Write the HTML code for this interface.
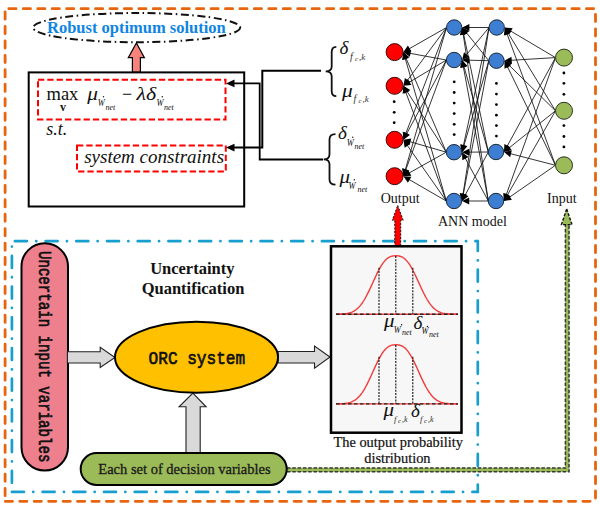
<!DOCTYPE html>
<html><head><meta charset="utf-8"><style>
html,body{margin:0;padding:0;background:#fff;}
svg{display:block;}
text{font-family:"Liberation Serif",serif;}
.mono{font-family:"Liberation Mono",monospace;}
</style></head><body>
<svg width="600" height="508" viewBox="0 0 600 508">
<g stroke="#E8650F" stroke-width="2.8" stroke-linecap="round" fill="none" stroke-dasharray="7.2 7.24">
<line x1="5" y1="8.7" x2="595.5" y2="8.7" stroke-dashoffset="10.6"/>
<line x1="595.5" y1="8.7" x2="595.5" y2="501.3" stroke-dashoffset="8.74"/>
<line x1="5" y1="501.3" x2="595.5" y2="501.3" stroke-dashoffset="14.14"/>
<line x1="5.1" y1="8.7" x2="5.1" y2="501.3" stroke-dashoffset="11.14"/>
</g>
<g stroke="#17A0CF" stroke-width="2.7" stroke-linecap="round" fill="none" stroke-dasharray="12 9.3 0.1 9.3">
<line x1="11.9" y1="241.2" x2="477.8" y2="241.2" stroke-dashoffset="27.7"/>
<line x1="477.8" y1="241.2" x2="477.8" y2="491.9" stroke-dashoffset="2.2"/>
<line x1="11.9" y1="491.9" x2="477.8" y2="491.9" stroke-dashoffset="30.7"/>
<line x1="11.9" y1="241.2" x2="11.9" y2="491.9" stroke-dashoffset="16"/>
</g>

<!-- Robust ellipse -->
<ellipse cx="136.7" cy="27.6" rx="103.5" ry="14.6" fill="none" stroke="#111" stroke-width="2" stroke-dasharray="8 3.5 1.5 3.5"/>
<text x="47" y="33" font-size="16.5" font-weight="bold" fill="#0F85E3">Robust optimum solution</text>
<polygon points="136.4,43 144.4,57.7 140.4,57.7 140.4,72.4 132.4,72.4 132.4,57.7 128.3,57.7" fill="#F8837A" stroke="#000" stroke-width="1.2" stroke-linejoin="miter"/>

<!-- optimisation box -->
<rect x="28.7" y="72.4" width="215.5" height="134.1" fill="none" stroke="#000" stroke-width="2"/>
<rect x="38" y="79.8" width="187.5" height="39.6" fill="none" stroke="#FF0000" stroke-width="2" stroke-dasharray="6.3 3"/>
<rect x="77" y="145.5" width="148.8" height="26" fill="none" stroke="#FF0000" stroke-width="2" stroke-dasharray="6.3 3"/>

<text x="46.5" y="100.1" font-size="18.5" fill="#111">max</text>
<text x="60" y="111.1" font-size="12" font-weight="bold" fill="#111">v</text>
<text transform="translate(87.3,99.7) scale(1.12,1)" font-size="19" font-style="italic" fill="#111">μ</text>
<text transform="translate(97.7,105.7) scale(0.8,1)" font-size="10.5" font-style="italic" fill="#111">W</text>
<circle cx="103.5" cy="96.8" r="0.7" fill="#111"/>
<text x="105.5" y="109.7" font-size="8" font-style="italic" fill="#111">net</text>
<text x="122" y="100" font-size="18" fill="#111">−</text>
<text transform="translate(136.5,100) scale(1.15,1)" font-size="19" font-style="italic" fill="#111">λδ</text>
<text transform="translate(156.5,105.7) scale(0.8,1)" font-size="10.5" font-style="italic" fill="#111">W</text>
<circle cx="162.3" cy="96.8" r="0.7" fill="#111"/>
<text x="164" y="109.7" font-size="8" font-style="italic" fill="#111">net</text>
<text x="46.3" y="135.4" font-size="18" font-style="italic" fill="#111">s.t.</text>
<text x="84.2" y="163.3" font-size="19" font-style="italic" fill="#111">system constraints</text>

<!-- connectors -->
<polyline points="321,70.7 262.3,70.7 262.3,147.6 233,147.6" fill="none" stroke="#000" stroke-width="2"/>
<polygon points="226,147.6 234.5,143.8 234.5,151.4" fill="#000"/>
<polyline points="323,159.5 259.7,159.5 259.7,83.4 233,83.4" fill="none" stroke="#000" stroke-width="1.8"/>
<polygon points="226,83.4 234.5,79.6 234.5,87.2" fill="#000"/>

<!-- braces -->
<path d="M336.3,46.8 Q331.7,46.8 331.7,52 L331.7,66.5 Q331.7,71.3 325.7,71.3 Q331.7,71.3 331.7,76.5 L331.7,91 Q331.7,96.2 336.3,96.2" fill="none" stroke="#111" stroke-width="1.8"/>
<path d="M335.5,134.2 Q329.5,134.2 329.5,139.5 L329.5,154.3 Q329.5,159.4 323.7,159.4 Q329.5,159.4 329.5,164.5 L329.5,179.5 Q329.5,184.6 335.5,184.6" fill="none" stroke="#111" stroke-width="1.8"/>

<text x="339.5" y="53.6" font-size="19" font-style="italic" fill="#111">δ</text>
<text x="350" y="60.00" font-size="10" font-style="italic" fill="#333">f</text>
<text x="355" y="61.00" font-size="7" font-style="italic" fill="#333">c</text>
<text x="359" y="60.00" font-size="9" font-style="italic" fill="#333">,k</text>
<text transform="translate(342,96.5) scale(1.12,1)" font-size="19" font-style="italic" fill="#111">μ</text>
<text x="353.5" y="102.00" font-size="10" font-style="italic" fill="#333">f</text>
<text x="358.5" y="103.00" font-size="7" font-style="italic" fill="#333">c</text>
<text x="362.5" y="102.00" font-size="9" font-style="italic" fill="#333">,k</text>

<text x="337.9" y="139" font-size="19" font-style="italic" fill="#111">δ</text>
<text transform="translate(346.7,145.7) scale(0.8,1)" font-size="10.5" font-style="italic" fill="#111">W</text>
<circle cx="352.8" cy="137.3" r="0.7" fill="#111"/>
<text x="354.5" y="148.5" font-size="8" font-style="italic" fill="#111">net</text>
<text transform="translate(339.4,183) scale(1.1,1)" font-size="19" font-style="italic" fill="#111">μ</text>
<text transform="translate(348.5,188.5) scale(0.8,1)" font-size="10.5" font-style="italic" fill="#111">W</text>
<circle cx="354.3" cy="179.8" r="0.7" fill="#111"/>
<text x="357.5" y="191.5" font-size="8" font-style="italic" fill="#111">net</text>

<!-- network -->
<line x1="555.50" y1="57.60" x2="510.03" y2="30.66" stroke="#111" stroke-width="0.85"/><polygon points="504.70,27.50 512.68,28.16 509.11,34.18" fill="#000"/><line x1="555.50" y1="57.60" x2="510.69" y2="60.32" stroke="#111" stroke-width="0.85"/><polygon points="504.50,60.70 511.47,56.77 511.90,63.76" fill="#000"/><line x1="555.50" y1="57.60" x2="506.97" y2="146.56" stroke="#111" stroke-width="0.85"/><polygon points="504.00,152.00 504.38,144.00 510.52,147.36" fill="#000"/><line x1="555.50" y1="57.60" x2="506.10" y2="195.16" stroke="#111" stroke-width="0.85"/><polygon points="504.00,201.00 503.14,193.04 509.73,195.41" fill="#000"/><line x1="555.50" y1="110.80" x2="507.93" y2="32.79" stroke="#111" stroke-width="0.85"/><polygon points="504.70,27.50 511.44,31.82 505.46,35.47" fill="#000"/><line x1="555.50" y1="110.80" x2="508.92" y2="65.04" stroke="#111" stroke-width="0.85"/><polygon points="504.50,60.70 512.09,63.25 507.18,68.24" fill="#000"/><line x1="555.50" y1="110.80" x2="508.84" y2="148.13" stroke="#111" stroke-width="0.85"/><polygon points="504.00,152.00 507.44,144.77 511.81,150.24" fill="#000"/><line x1="555.50" y1="110.80" x2="507.07" y2="195.62" stroke="#111" stroke-width="0.85"/><polygon points="504.00,201.00 504.53,193.01 510.61,196.48" fill="#000"/><line x1="555.50" y1="165.30" x2="506.84" y2="33.32" stroke="#111" stroke-width="0.85"/><polygon points="504.70,27.50 510.47,33.04 503.91,35.47" fill="#000"/><line x1="555.50" y1="165.30" x2="507.22" y2="66.27" stroke="#111" stroke-width="0.85"/><polygon points="504.50,60.70 510.80,65.64 504.51,68.71" fill="#000"/><line x1="555.50" y1="165.30" x2="510.00" y2="153.55" stroke="#111" stroke-width="0.85"/><polygon points="504.00,152.00 511.85,150.41 510.10,157.19" fill="#000"/><line x1="555.50" y1="165.30" x2="509.10" y2="197.47" stroke="#111" stroke-width="0.85"/><polygon points="504.00,201.00 507.92,194.02 511.91,199.77" fill="#000"/><line x1="489.00" y1="27.50" x2="468.40" y2="27.50" stroke="#111" stroke-width="0.85"/><polygon points="462.20,27.50 469.40,24.00 469.40,31.00" fill="#000"/><line x1="489.00" y1="27.50" x2="466.05" y2="55.22" stroke="#111" stroke-width="0.85"/><polygon points="462.10,60.00 463.99,52.22 469.39,56.69" fill="#000"/><line x1="489.00" y1="27.50" x2="463.31" y2="146.14" stroke="#111" stroke-width="0.85"/><polygon points="462.00,152.20 460.10,144.42 466.94,145.90" fill="#000"/><line x1="489.00" y1="27.50" x2="462.95" y2="194.87" stroke="#111" stroke-width="0.85"/><polygon points="462.00,201.00 459.65,193.35 466.57,194.42" fill="#000"/><line x1="488.80" y1="60.70" x2="466.08" y2="32.34" stroke="#111" stroke-width="0.85"/><polygon points="462.20,27.50 469.43,30.93 463.97,35.31" fill="#000"/><line x1="488.80" y1="60.70" x2="468.30" y2="60.16" stroke="#111" stroke-width="0.85"/><polygon points="462.10,60.00 469.39,56.69 469.21,63.69" fill="#000"/><line x1="488.80" y1="60.70" x2="463.74" y2="146.25" stroke="#111" stroke-width="0.85"/><polygon points="462.00,152.20 460.66,144.31 467.38,146.27" fill="#000"/><line x1="488.80" y1="60.70" x2="463.16" y2="194.91" stroke="#111" stroke-width="0.85"/><polygon points="462.00,201.00 459.91,193.27 466.79,194.58" fill="#000"/><line x1="488.30" y1="152.00" x2="463.47" y2="33.57" stroke="#111" stroke-width="0.85"/><polygon points="462.20,27.50 467.10,33.83 460.25,35.26" fill="#000"/><line x1="488.30" y1="152.00" x2="463.80" y2="65.96" stroke="#111" stroke-width="0.85"/><polygon points="462.10,60.00 467.44,65.97 460.71,67.88" fill="#000"/><line x1="488.30" y1="152.00" x2="468.20" y2="152.15" stroke="#111" stroke-width="0.85"/><polygon points="462.00,152.20 469.17,148.65 469.23,155.65" fill="#000"/><line x1="488.30" y1="152.00" x2="464.93" y2="195.54" stroke="#111" stroke-width="0.85"/><polygon points="462.00,201.00 462.32,193.00 468.49,196.31" fill="#000"/><line x1="488.30" y1="201.00" x2="463.12" y2="33.63" stroke="#111" stroke-width="0.85"/><polygon points="462.20,27.50 466.73,34.10 459.81,35.14" fill="#000"/><line x1="488.30" y1="201.00" x2="463.23" y2="66.10" stroke="#111" stroke-width="0.85"/><polygon points="462.10,60.00 466.86,66.44 459.97,67.72" fill="#000"/><line x1="488.30" y1="201.00" x2="464.94" y2="157.66" stroke="#111" stroke-width="0.85"/><polygon points="462.00,152.20 468.50,156.88 462.33,160.20" fill="#000"/><line x1="488.30" y1="201.00" x2="468.20" y2="201.00" stroke="#111" stroke-width="0.85"/><polygon points="462.00,201.00 469.20,197.50 469.20,204.50" fill="#000"/><line x1="446.50" y1="27.50" x2="408.78" y2="49.03" stroke="#111" stroke-width="0.85"/><polygon points="403.40,52.10 407.92,45.49 411.39,51.57" fill="#000"/><line x1="446.50" y1="27.50" x2="407.09" y2="80.81" stroke="#111" stroke-width="0.85"/><polygon points="403.40,85.80 404.87,77.93 410.49,82.09" fill="#000"/><line x1="446.50" y1="27.50" x2="405.62" y2="134.01" stroke="#111" stroke-width="0.85"/><polygon points="403.40,139.80 402.71,131.82 409.25,134.33" fill="#000"/><line x1="446.50" y1="27.50" x2="405.13" y2="170.25" stroke="#111" stroke-width="0.85"/><polygon points="403.40,176.20 402.04,168.31 408.77,170.26" fill="#000"/><line x1="446.40" y1="60.00" x2="409.50" y2="53.22" stroke="#111" stroke-width="0.85"/><polygon points="403.40,52.10 411.11,49.96 409.85,56.84" fill="#000"/><line x1="446.40" y1="60.00" x2="408.72" y2="82.61" stroke="#111" stroke-width="0.85"/><polygon points="403.40,85.80 407.77,79.09 411.37,85.10" fill="#000"/><line x1="446.40" y1="60.00" x2="406.34" y2="134.34" stroke="#111" stroke-width="0.85"/><polygon points="403.40,139.80 403.73,131.80 409.90,135.12" fill="#000"/><line x1="446.40" y1="60.00" x2="405.55" y2="170.39" stroke="#111" stroke-width="0.85"/><polygon points="403.40,176.20 402.62,168.23 409.18,170.66" fill="#000"/><line x1="446.30" y1="152.20" x2="405.84" y2="57.80" stroke="#111" stroke-width="0.85"/><polygon points="403.40,52.10 409.45,57.34 403.02,60.10" fill="#000"/><line x1="446.30" y1="152.20" x2="406.76" y2="91.01" stroke="#111" stroke-width="0.85"/><polygon points="403.40,85.80 410.25,89.95 404.37,93.75" fill="#000"/><line x1="446.30" y1="152.20" x2="409.36" y2="141.52" stroke="#111" stroke-width="0.85"/><polygon points="403.40,139.80 411.29,138.44 409.34,145.16" fill="#000"/><line x1="446.30" y1="152.20" x2="408.81" y2="173.17" stroke="#111" stroke-width="0.85"/><polygon points="403.40,176.20 407.97,169.63 411.39,175.74" fill="#000"/><line x1="446.30" y1="201.00" x2="405.12" y2="58.06" stroke="#111" stroke-width="0.85"/><polygon points="403.40,52.10 408.76,58.05 402.03,59.99" fill="#000"/><line x1="446.30" y1="201.00" x2="405.56" y2="91.61" stroke="#111" stroke-width="0.85"/><polygon points="403.40,85.80 409.19,91.33 402.63,93.77" fill="#000"/><line x1="446.30" y1="201.00" x2="406.96" y2="144.88" stroke="#111" stroke-width="0.85"/><polygon points="403.40,139.80 410.40,143.69 404.67,147.70" fill="#000"/><line x1="446.30" y1="201.00" x2="408.77" y2="179.30" stroke="#111" stroke-width="0.85"/><polygon points="403.40,176.20 411.39,176.77 407.88,182.83" fill="#000"/>
<circle cx="394.6" cy="52.1" r="8.5" fill="#FF0000" stroke="#3a0a0a" stroke-width="1"/><circle cx="394.6" cy="85.8" r="8.5" fill="#FF0000" stroke="#3a0a0a" stroke-width="1"/><circle cx="394.6" cy="139.8" r="8.5" fill="#FF0000" stroke="#3a0a0a" stroke-width="1"/><circle cx="394.6" cy="176.2" r="8.5" fill="#FF0000" stroke="#3a0a0a" stroke-width="1"/><circle cx="454.2" cy="27.5" r="7.7" fill="#3D7ED2" stroke="#1b2a3a" stroke-width="1"/><circle cx="454.1" cy="60.0" r="7.7" fill="#3D7ED2" stroke="#1b2a3a" stroke-width="1"/><circle cx="454.0" cy="152.2" r="7.7" fill="#3D7ED2" stroke="#1b2a3a" stroke-width="1"/><circle cx="454.0" cy="201.0" r="7.7" fill="#3D7ED2" stroke="#1b2a3a" stroke-width="1"/><circle cx="496.7" cy="27.5" r="7.7" fill="#3D7ED2" stroke="#1b2a3a" stroke-width="1"/><circle cx="496.5" cy="60.7" r="7.7" fill="#3D7ED2" stroke="#1b2a3a" stroke-width="1"/><circle cx="496.0" cy="152.0" r="7.7" fill="#3D7ED2" stroke="#1b2a3a" stroke-width="1"/><circle cx="496.0" cy="201.0" r="7.7" fill="#3D7ED2" stroke="#1b2a3a" stroke-width="1"/><circle cx="564.0" cy="57.6" r="8.5" fill="#9BBB59" stroke="#2a3320" stroke-width="1"/><circle cx="564.0" cy="110.8" r="8.5" fill="#9BBB59" stroke="#2a3320" stroke-width="1"/><circle cx="564.0" cy="165.3" r="8.5" fill="#9BBB59" stroke="#2a3320" stroke-width="1"/>
<circle cx="394.2" cy="101.7" r="1.4"/><circle cx="394.2" cy="112.3" r="1.4"/><circle cx="394.2" cy="122.7" r="1.4"/><circle cx="454.2" cy="81.8" r="1.4"/><circle cx="454.2" cy="92.5" r="1.4"/><circle cx="454.2" cy="103.1" r="1.4"/><circle cx="454.2" cy="113.6" r="1.4"/><circle cx="454.2" cy="124.3" r="1.4"/><circle cx="454.2" cy="134.6" r="1.4"/><circle cx="496.4" cy="83.4" r="1.4"/><circle cx="496.4" cy="94.1" r="1.4"/><circle cx="496.4" cy="104.6" r="1.4"/><circle cx="496.4" cy="115.2" r="1.4"/><circle cx="496.4" cy="125.6" r="1.4"/><circle cx="496.4" cy="136.1" r="1.4"/><circle cx="563.9" cy="73" r="1.4"/><circle cx="563.9" cy="83.3" r="1.4"/><circle cx="563.9" cy="94.3" r="1.4"/><circle cx="563.9" cy="125.6" r="1.4"/><circle cx="563.9" cy="136.5" r="1.4"/><circle cx="563.9" cy="146.9" r="1.4"/>
<text x="380.7" y="203" font-size="14" fill="#111">Output</text>
<text x="438" y="225.5" font-size="14" fill="#111">ANN model</text>
<text x="547" y="203" font-size="14" fill="#111">Input</text>

<!-- red arrow output -->
<polygon points="397.7,205.4 403.2,220.2 400.7,220.2 400.7,246 394.8,246 394.8,220.2 392.3,220.2" fill="#FF0000" stroke="#111" stroke-width="1" stroke-dasharray="2 1.5"/>

<!-- green dashed path -->
<polyline points="287,469.9 567.2,469.9 567.2,224" fill="none" stroke="#9BBB59" stroke-width="4.2"/>
<path d="M287,468.1 H565.4 V224 M287,471.7 H569 V224" fill="none" stroke="#383838" stroke-width="1.5" stroke-dasharray="3.5 1.8"/>
<polygon points="566.7,208.9 572,224.6 561.4,224.6" fill="#9BBB59" stroke="#111" stroke-width="1.4" stroke-dasharray="3 1.5"/>

<!-- pink bar -->
<rect x="21.5" y="243.3" width="46.5" height="227.2" rx="23.2" ry="23.2" fill="#EE808E" stroke="#000" stroke-width="2"/>
<text class="mono" transform="translate(39.3,251) rotate(90) scale(1,1.32)" font-size="14.1" fill="#111" stroke="#111" stroke-width="0.55">Uncertain input variables</text>

<!-- gray arrows -->
<polygon points="67.4,351.7 100.2,351.7 100.2,347.4 115,357.5 100.2,367.5 100.2,363 67.4,363" fill="#D9D9D9" stroke="#222" stroke-width="1.1"/>
<polygon points="278,351.5 314.5,351.5 314.5,346 330,357 314.5,368.2 314.5,363 278,363" fill="#D9D9D9" stroke="#222" stroke-width="1.1"/>
<polygon points="192.9,393.1 206.1,406.8 200.2,406.8 200.2,453 186,453 186,406.8 179.1,406.8" fill="#D9D9D9" stroke="#222" stroke-width="1.1"/>

<!-- ORC -->
<ellipse cx="196.5" cy="357.2" rx="81.5" ry="35.5" fill="#FFC000" stroke="#000" stroke-width="2"/>
<text class="mono" transform="translate(148.6,363.8) scale(1,1.18)" font-size="16.1" fill="#111" stroke="#111" stroke-width="0.6">ORC system</text>
<text x="192.3" y="273.75" font-size="16.5" font-weight="bold" fill="#111" text-anchor="middle">Uncertainty</text>
<text x="193" y="294" font-size="16.5" font-weight="bold" fill="#111" text-anchor="middle">Quantification</text>

<!-- plot box -->
<rect x="331" y="246.3" width="130.5" height="186.4" fill="#F7F7F7" stroke="#000" stroke-width="2.5"/>
<polyline points="336.00,314.16 337.00,314.15 338.00,314.13 339.00,314.11 340.00,314.08 341.00,314.04 342.00,313.99 343.00,313.92 344.00,313.84 345.00,313.74 346.00,313.61 347.00,313.45 348.00,313.26 349.00,313.03 350.00,312.75 351.00,312.42 352.00,312.03 353.00,311.57 354.00,311.03 355.00,310.42 356.00,309.71 357.00,308.91 358.00,308.01 359.00,307.00 360.00,305.88 361.00,304.64 362.00,303.29 363.00,301.83 364.00,300.25 365.00,298.56 366.00,296.77 367.00,294.89 368.00,292.92 369.00,290.87 370.00,288.77 371.00,286.62 372.00,284.44 373.00,282.24 374.00,280.05 375.00,277.87 376.00,275.74 377.00,273.66 378.00,271.65 379.00,269.73 380.00,267.91 381.00,266.19 382.00,264.60 383.00,263.14 384.00,261.82 385.00,260.63 386.00,259.59 387.00,258.69 388.00,257.93 389.00,257.30 390.00,256.79 391.00,256.41 392.00,256.13 393.00,255.95 394.00,255.85 395.00,255.81 396.00,255.80 397.00,255.82 398.00,255.88 399.00,256.01 400.00,256.23 401.00,256.55 402.00,256.98 403.00,257.53 404.00,258.21 405.00,259.03 406.00,259.99 407.00,261.09 408.00,262.33 409.00,263.71 410.00,265.22 411.00,266.86 412.00,268.62 413.00,270.49 414.00,272.45 415.00,274.49 416.00,276.59 417.00,278.74 418.00,280.92 419.00,283.12 420.00,285.31 421.00,287.48 422.00,289.62 423.00,291.70 424.00,293.71 425.00,295.65 426.00,297.50 427.00,299.25 428.00,300.89 429.00,302.43 430.00,303.85 431.00,305.15 432.00,306.34 433.00,307.42 434.00,308.38 435.00,309.24 436.00,310.01 437.00,310.67 438.00,311.26 439.00,311.76 440.00,312.19 441.00,312.56 442.00,312.87 443.00,313.13 444.00,313.34 445.00,313.52 446.00,313.66 447.00,313.78 448.00,313.88 449.00,313.95 450.00,314.01 451.00,314.06 452.00,314.09 453.00,314.12 454.00,314.14 455.00,314.16 456.00,314.17 457.00,314.18 458.00,314.18" fill="none" stroke="#F23B3B" stroke-width="1.4"/>
<polyline points="336.00,403.86 337.00,403.85 338.00,403.83 339.00,403.81 340.00,403.78 341.00,403.74 342.00,403.69 343.00,403.62 344.00,403.54 345.00,403.43 346.00,403.30 347.00,403.14 348.00,402.95 349.00,402.72 350.00,402.43 351.00,402.10 352.00,401.70 353.00,401.24 354.00,400.70 355.00,400.07 356.00,399.36 357.00,398.55 358.00,397.63 359.00,396.61 360.00,395.48 361.00,394.23 362.00,392.86 363.00,391.38 364.00,389.78 365.00,388.07 366.00,386.26 367.00,384.36 368.00,382.36 369.00,380.29 370.00,378.16 371.00,375.99 372.00,373.78 373.00,371.56 374.00,369.34 375.00,367.14 376.00,364.98 377.00,362.88 378.00,360.84 379.00,358.90 380.00,357.05 381.00,355.32 382.00,353.71 383.00,352.23 384.00,350.89 385.00,349.69 386.00,348.64 387.00,347.72 388.00,346.95 389.00,346.31 390.00,345.81 391.00,345.42 392.00,345.14 393.00,344.95 394.00,344.85 395.00,344.81 396.00,344.80 397.00,344.82 398.00,344.88 399.00,345.02 400.00,345.24 401.00,345.56 402.00,345.99 403.00,346.55 404.00,347.24 405.00,348.07 406.00,349.04 407.00,350.15 408.00,351.41 409.00,352.81 410.00,354.34 411.00,356.00 412.00,357.78 413.00,359.66 414.00,361.65 415.00,363.71 416.00,365.84 417.00,368.02 418.00,370.22 419.00,372.45 420.00,374.66 421.00,376.86 422.00,379.02 423.00,381.13 424.00,383.17 425.00,385.13 426.00,387.00 427.00,388.77 428.00,390.43 429.00,391.99 430.00,393.42 431.00,394.74 432.00,395.94 433.00,397.03 434.00,398.01 435.00,398.88 436.00,399.66 437.00,400.33 438.00,400.92 439.00,401.43 440.00,401.87 441.00,402.24 442.00,402.55 443.00,402.81 444.00,403.03 445.00,403.21 446.00,403.36 447.00,403.48 448.00,403.57 449.00,403.65 450.00,403.71 451.00,403.75 452.00,403.79 453.00,403.82 454.00,403.84 455.00,403.86 456.00,403.87 457.00,403.88 458.00,403.88" fill="none" stroke="#F23B3B" stroke-width="1.4"/>
<line x1="336" y1="314.2" x2="458" y2="314.2" stroke="#F23B3B" stroke-width="1.4"/><line x1="336" y1="314.2" x2="458" y2="314.2" stroke="#222" stroke-width="1.4" stroke-dasharray="3.5 2.5"/>
<line x1="336" y1="403.9" x2="458" y2="403.9" stroke="#F23B3B" stroke-width="1.4"/><line x1="336" y1="403.9" x2="458" y2="403.9" stroke="#222" stroke-width="1.4" stroke-dasharray="3.5 2.5"/>
<g stroke="#111" stroke-width="1.1" stroke-dasharray="2 1.2">
<line x1="379" y1="267.8" x2="379" y2="314"/><line x1="395.8" y1="256" x2="395.8" y2="314"/><line x1="412.8" y1="267.8" x2="412.8" y2="314"/>
<line x1="379" y1="356.7" x2="379" y2="403.8"/><line x1="395.8" y1="345" x2="395.8" y2="403.8"/><line x1="412.8" y1="356.7" x2="412.8" y2="403.8"/>
</g>
<text transform="translate(384,326.6) scale(1.1,1)" font-size="19" font-style="italic" fill="#111">μ</text>
<text transform="translate(393.8,333) scale(0.8,1)" font-size="10.5" font-style="italic" fill="#111">W</text>
<text x="402" y="335.4" font-size="8" font-style="italic" fill="#111">net</text>
<text x="413.4" y="328.5" font-size="19" font-style="italic" fill="#111">δ</text>
<text transform="translate(421.6,334) scale(0.8,1)" font-size="10.5" font-style="italic" fill="#111">W</text>
<text x="429" y="337" font-size="8" font-style="italic" fill="#111">net</text>
<circle cx="401.6" cy="324.8" r="0.7" fill="#111"/><circle cx="427.4" cy="326.4" r="0.7" fill="#111"/>
<text transform="translate(383.5,415.5) scale(1.1,1)" font-size="19" font-style="italic" fill="#111">μ</text>
<text x="394" y="421.80" font-size="9" font-style="italic" fill="#333">f</text>
<text x="398" y="422.80" font-size="7" font-style="italic" fill="#333">c</text>
<text x="402" y="421.80" font-size="8" font-style="italic" fill="#333">,k</text>
<text x="411" y="417" font-size="19" font-style="italic" fill="#111">δ</text>
<text x="420" y="421.80" font-size="9" font-style="italic" fill="#333">f</text>
<text x="424" y="422.80" font-size="7" font-style="italic" fill="#333">c</text>
<text x="428" y="421.80" font-size="8" font-style="italic" fill="#333">,k</text>
<text x="398.2" y="447.2" font-size="14.4" fill="#111" stroke="#111" stroke-width="0.2" text-anchor="middle">The output probability</text>
<text x="397.4" y="463.4" font-size="14.4" fill="#111" stroke="#111" stroke-width="0.2" text-anchor="middle">distribution</text>

<!-- green pill -->
<rect x="80.7" y="453.1" width="206" height="31.8" rx="15.9" ry="15.9" fill="#9BBB59" stroke="#000" stroke-width="2"/>
<text x="98.3" y="473.5" font-size="14.5" fill="#1a1a1a" stroke="#1a1a1a" stroke-width="0.3">Each set of decision variables</text>

</svg>
</body></html>
